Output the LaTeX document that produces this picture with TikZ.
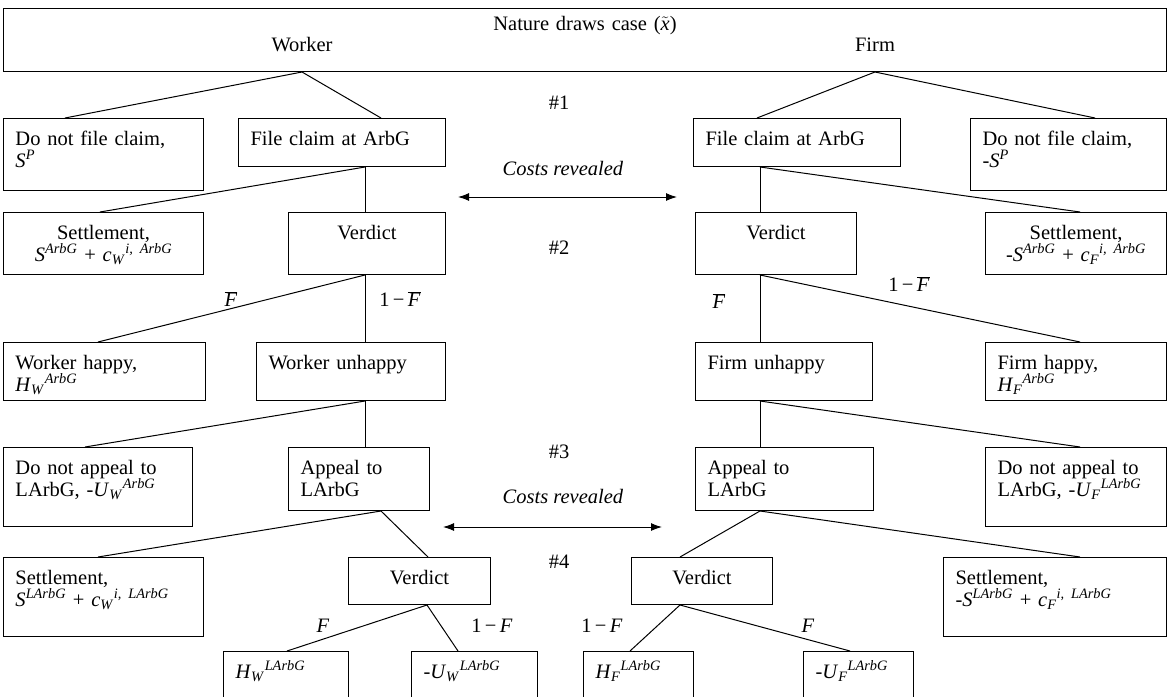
\documentclass[tikz,border=0pt]{standalone}
\usepackage{fontspec}
\setmainfont{Liberation Serif}
\usetikzlibrary{arrows.meta}
\newcommand{\Fb}{$\overline{\mbox{\textit{F}}}$}
\newcommand{\spt}[1]{\textsuperscript{\textit{#1}}}
\newcommand{\sbt}[1]{\textsubscript{\textit{#1}}}
\begin{document}
\begin{tikzpicture}[x=1pt,y=-1pt,line width=1pt,
  every node/.style={font=\fontsize{20.5}{22}\selectfont},
  box/.style={draw, anchor=north west, inner xsep=12pt, inner ysep=5pt, text height=22pt, align=left},
  cbox/.style={box, align=center},
  sz/.style 2 args={text width=#1-24, text depth=#2-32},
  lab/.style={inner sep=0pt},
  rev/.style={{Latex[length=11pt,width=8pt]}-{Latex[length=11pt,width=8pt]}}]
\clip (0,0) rectangle (1169,696);
% nature and the two players
\node[box, align=center, inner ysep=0pt, text width=1139, text depth=41] (nature) at (3,8) {Nature draws case ($\tilde{\mbox{\textit{x}}}$)};
\node[lab] (wlab) at (302,45) {Worker};
\node[lab] (flab) at (875,45) {Firm};
% stage 1
\node[box, sz={200}{72}] (wnofile) at (3,118) {Do not file claim,\\\textit{S}\spt{P}};
\node[box, sz={207}{48}] (wfile) at (238,118) {File claim at ArbG};
\node[box, sz={207}{48}] (ffile) at (693,118) {File claim at ArbG};
\node[box, sz={196}{72}] (fnofile) at (970,118) {Do not file claim,\\-\textit{S}\spt{P}};
\draw (nature.south -| wlab) -- ([xshift=62]wnofile.north west);
\draw (nature.south -| wlab) -- ([xshift=143]wfile.north west);
\draw (nature.south -| flab) -- ([xshift=64]ffile.north west);
\draw (nature.south -| flab) -- ([xshift=125]fnofile.north west);
% stage 2
\node[cbox, sz={200}{62}] (wsettle) at (3,212) {Settlement,\\\textit{S}\spt{ArbG} + \textit{c}\sbt{W}\spt{i, ArbG}};
\node[cbox, sz={157}{62}] (wverdict) at (288,212) {Verdict};
\node[cbox, sz={161}{62}] (fverdict) at (695,212) {Verdict};
\node[cbox, sz={181}{62}] (fsettle) at (985,212) {Settlement,\\-\textit{S}\spt{ArbG} + \textit{c}\sbt{F}\spt{i, ArbG}};
\draw ([xshift=127]wfile.south west) -- ([xshift=97]wsettle.north west);
\draw ([xshift=127]wfile.south west) -- ([xshift=77]wverdict.north west);
\draw ([xshift=67]ffile.south west) -- ([xshift=65]fverdict.north west);
\draw ([xshift=67]ffile.south west) -- ([xshift=95]fsettle.north west);
% verdict at ArbG
\node[box, sz={202}{58}] (whappy) at (3,342) {Worker happy,\\\textit{H}\sbt{W}\spt{ArbG}};
\node[box, sz={189}{58}] (wunhappy) at (256,342) {Worker unhappy};
\node[box, sz={177}{58}] (funhappy) at (695,342) {Firm unhappy};
\node[box, sz={181}{58}] (fhappy) at (985,342) {Firm happy,\\\textit{H}\sbt{F}\spt{ArbG}};
\draw ([xshift=77]wverdict.south west) -- ([xshift=95]whappy.north west);
\draw ([xshift=77]wverdict.south west) -- ([xshift=109]wunhappy.north west);
\draw ([xshift=65]fverdict.south west) -- ([xshift=65]funhappy.north west);
\draw ([xshift=65]fverdict.south west) -- ([xshift=95]fhappy.north west);
\node[lab] (pw1) at (231,299) {\Fb};
\node[lab] (pw2) at (400,299) {1\,−\,\Fb};
\node[lab] (pf1) at (719,301) {\Fb};
\node[lab] (pf2) at (909,284) {1\,−\,\Fb};
% stage 3
\node[box, sz={189}{79}] (wnoappeal) at (3,447) {Do not appeal to\\LArbG, -\textit{U}\sbt{W}\spt{ArbG}};
\node[box, sz={141}{63}] (wappeal) at (288,447) {Appeal to\\LArbG};
\node[box, sz={178}{63}] (fappeal) at (695,447) {Appeal to\\LArbG};
\node[box, sz={181}{79}] (fnoappeal) at (985,447) {Do not appeal to\\LArbG, -\textit{U}\sbt{F}\spt{LArbG}};
\draw ([xshift=109]wunhappy.south west) -- ([xshift=82]wnoappeal.north west);
\draw ([xshift=109]wunhappy.south west) -- ([xshift=77]wappeal.north west);
\draw ([xshift=65]funhappy.south west) -- ([xshift=65]fappeal.north west);
\draw ([xshift=65]funhappy.south west) -- ([xshift=95]fnoappeal.north west);
% stage 4
\node[box, sz={200}{79}] (wsettle2) at (3,557) {Settlement,\\\textit{S}\spt{LArbG} + \textit{c}\sbt{W}\spt{i, LArbG}};
\node[cbox, sz={142}{47}] (wverdict2) at (348,557) {Verdict};
\node[cbox, sz={141}{47}] (fverdict2) at (631,557) {Verdict};
\node[box, sz={223}{79}] (fsettle2) at (943,557) {Settlement,\\-\textit{S}\spt{LArbG} + \textit{c}\sbt{F}\spt{i, LArbG}};
\draw ([xshift=93]wappeal.south west) -- ([xshift=95]wsettle2.north west);
\draw ([xshift=93]wappeal.south west) -- ([xshift=80]wverdict2.north west);
\draw ([xshift=65]fappeal.south west) -- ([xshift=49]fverdict2.north west);
\draw ([xshift=65]fappeal.south west) -- ([xshift=137]fsettle2.north west);
% verdict at LArbG
\node[box, sz={125}{60}] (whl) at (223,651) {\textit{H}\sbt{W}\spt{LArbG}};
\node[box, sz={126}{60}] (wul) at (411,651) {-\textit{U}\sbt{W}\spt{LArbG}};
\node[box, sz={110}{60}] (fhl) at (583,651) {\textit{H}\sbt{F}\spt{LArbG}};
\node[box, sz={110}{60}] (ful) at (803,651) {-\textit{U}\sbt{F}\spt{LArbG}};
\draw ([xshift=79]wverdict2.south west) -- ([xshift=64]whl.north west);
\draw ([xshift=79]wverdict2.south west) -- ([xshift=47]wul.north west);
\draw ([xshift=49]fverdict2.south west) -- ([xshift=47]fhl.north west);
\draw ([xshift=49]fverdict2.south west) -- ([xshift=47]ful.north west);
\node[lab] (qw1) at (323,626) {\textit{F}};
\node[lab] (qw2) at (492,626) {1\,−\,\textit{F}};
\node[lab] (qf1) at (602,626) {1\,−\,\textit{F}};
\node[lab] (qf2) at (808,626) {\textit{F}};
% stage numbers and costs
\node[lab] (s1) at (559,103) {\#1};
\node[lab] (s2) at (559,248) {\#2};
\node[lab] (s3) at (559,452) {\#3};
\node[lab] (s4) at (559,562) {\#4};
\node[lab] (c1) at (563,168) {\textit{Costs revealed}};
\node[lab] (c2) at (563,496) {\textit{Costs revealed}};
\coordinate (c1l) at (458,197);
\coordinate (c1r) at (677,197);
\coordinate (c2l) at (443,527);
\coordinate (c2r) at (662,527);
\draw[rev] (c1l) -- (c1r);
\draw[rev] (c2l) -- (c2r);
\end{tikzpicture}
\end{document}
